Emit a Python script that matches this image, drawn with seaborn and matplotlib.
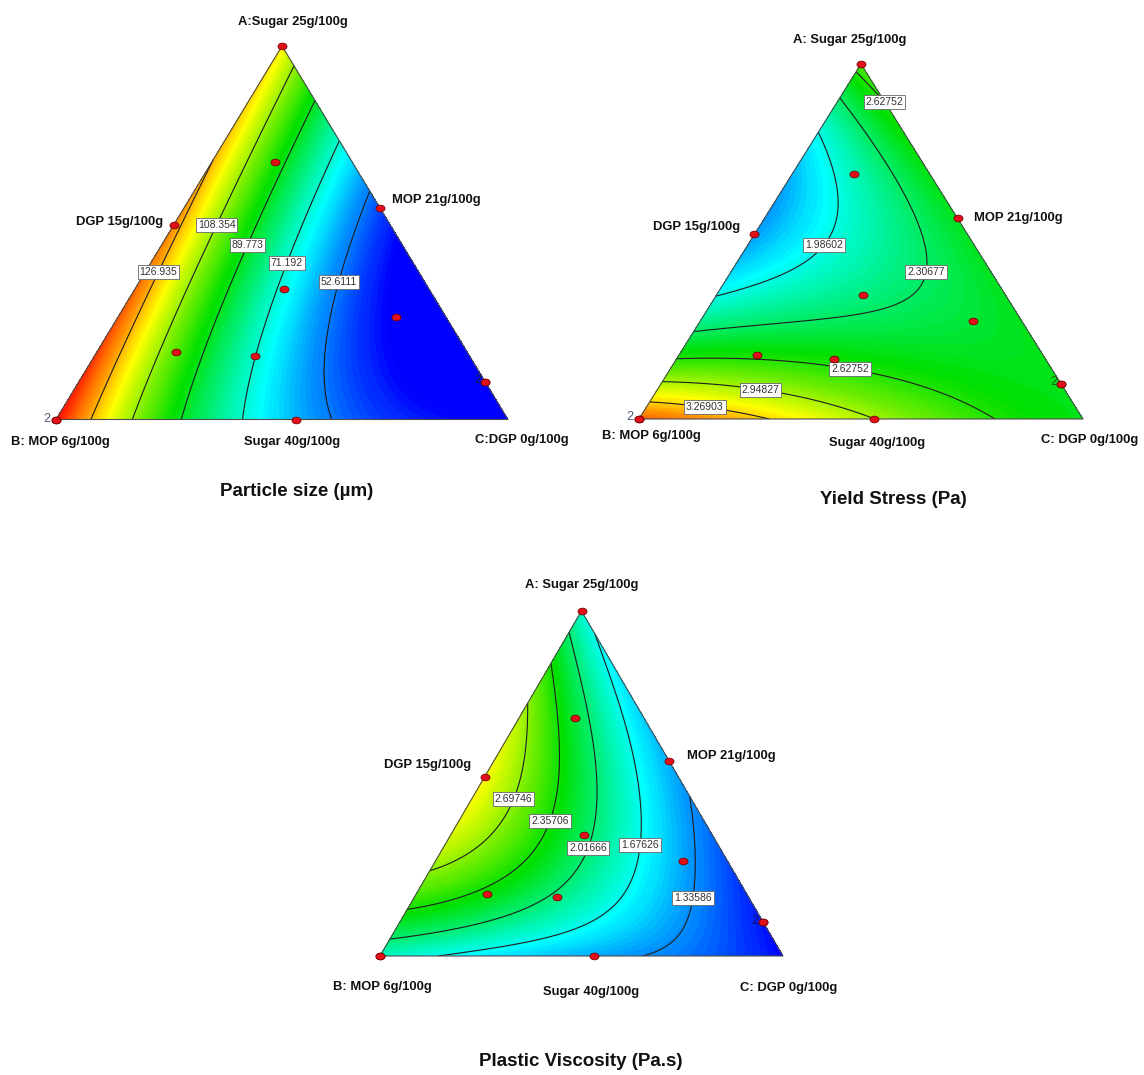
import numpy as np
import matplotlib
matplotlib.use("Agg")
import matplotlib.pyplot as plt
import matplotlib.tri as mtri
from matplotlib.path import Path
import seaborn as sns

# ── Data ──────────────────────────────────────────────────────────────────────
# Design runs, as A and C fractions of the simplex (B = 1 - A - C)
run_a = [1.0, 0.0, 0.0, 0.52, 0.565, 0.0, 0.10, 0.10, 0.69, 0.35, 0.18, 0.17, 0.275]
run_c = [0.0, 0.0, 0.0, 0.0, 0.435, 0.53, 0.90, 0.90, 0.14, 0.33, 0.175, 0.355, 0.615]

# Particle size (µm): readings (A, C, value)
ps_a = [1.0, 0.0, 0.0, 0.0, 0.0, 0.0, 0.0, 0.0, 0.93, 0.86, 0.75, 0.61, 0.722,
        0.396, 0.521, 0.469, 0.231, 0.42, 0.171, 0.369, 0.231]
ps_c = [0.0, 0.0, 1.0, 0.082, 0.17, 0.274, 0.407, 0.613, 0.07, 0.14, 0.25, 0.39, 0.0,
        0.028, 0.094, 0.187, 0.231, 0.297, 0.356, 0.439, 0.494]
ps_val = [118, 144, 40, 126.935, 108.354, 89.773, 71.192, 52.611, 108.354, 89.773, 71.192, 52.611,
          126.935, 126.935, 108.354, 89.773, 89.773, 71.192, 71.192, 52.611, 52.611]
ps_levels = [52.6111, 71.192, 89.773, 108.354, 126.935]
ps_labels = ["52.6111", "71.192", "89.773", "108.354", "126.935"]

# Yield stress (Pa)
ys_a = [1.0, 0.0, 0.0,
        0.049, 0.049, 0.0,
        0.11, 0.093, 0.0,
        0.171, 0.166, 0.15, 0.10, 0.0, 0.97, 0.88,
        0.246, 0.255, 0.279, 0.335, 0.42, 0.617, 0.786, 0.908,
        0.345, 0.373, 0.495, 0.617, 0.805,
        0.57, 0.5]
ys_c = [0.0, 0.0, 1.0,
        0.0, 0.125, 0.257,
        0.0, 0.229, 0.521,
        0.0, 0.174, 0.401, 0.62, 0.789, 0.0, 0.12,
        0.0, 0.212, 0.365, 0.436, 0.414, 0.287, 0.136, 0.0,
        0.0, 0.12, 0.165, 0.126, 0.0,
        0.02, 0.5]
ys_val = [2.70, 3.52, 2.50,
          3.26903, 3.26903, 3.26903,
          2.94827, 2.94827, 2.94827,
          2.62752, 2.62752, 2.62752, 2.62752, 2.62752, 2.62752, 2.62752,
          2.30677, 2.30677, 2.30677, 2.30677, 2.30677, 2.30677, 2.30677, 2.30677,
          1.98602, 1.98602, 1.98602, 1.98602, 1.98602,
          1.72, 2.45]
ys_levels = [1.98602, 2.30677, 2.62752, 2.94827, 3.26903]
ys_labels = ["1.98602", "2.30677", "2.62752", "2.94827", "3.26903"]

# Plastic viscosity (Pa.s)
pv_a = [1.0, 0.0, 0.0,
        0.742, 0.471, 0.458, 0.326, 0.24,
        0.853, 0.664, 0.397, 0.375, 0.22, 0.133,
        0.94, 0.664, 0.336, 0.319, 0.181, 0.095, 0.051,
        0.916, 0.858, 0.664, 0.375, 0.322, 0.133, 0.085, 0.027, 0.0,
        0.481, 0.278, 0.168, 0.133, 0.056, 0.0,
        0.80, 0.65, 0.30, 0.5]
pv_c = [0.0, 0.0, 1.0,
        0.0, 0.1375, 0.097, 0.16, 0.0,
        0.0, 0.108, 0.2115, 0.2265, 0.18, 0.0,
        0.0, 0.182, 0.325, 0.345, 0.2825, 0.16, 0.0,
        0.084, 0.11, 0.29, 0.4635, 0.491, 0.5305, 0.497, 0.36, 0.145,
        0.519, 0.657, 0.692, 0.7125, 0.685, 0.576,
        0.20, 0.35, 0.70, 0.0]
pv_val = [1.75, 1.80, 0.95,
          2.69746, 2.69746, 2.69746, 2.69746, 2.69746,
          2.35706, 2.35706, 2.35706, 2.35706, 2.35706, 2.35706,
          2.01666, 2.01666, 2.01666, 2.01666, 2.01666, 2.01666, 2.01666,
          1.67626, 1.67626, 1.67626, 1.67626, 1.67626, 1.67626, 1.67626, 1.67626, 1.67626,
          1.33586, 1.33586, 1.33586, 1.33586, 1.33586, 1.33586,
          1.60, 1.48, 1.15, 2.92]
pv_levels = [1.33586, 1.67626, 2.01666, 2.35706, 2.69746]
pv_labels = ["1.33586", "1.67626", "2.01666", "2.35706", "2.69746"]


# ── Helpers ───────────────────────────────────────────────────────────────────
def scheffe_terms(a, c, quartic=False):
    # full cubic (optionally quartic) Scheffe mixture model
    a = np.asarray(a, float)
    c = np.asarray(c, float)
    b = 1 - a - c
    cols = [a, b, c, a*b, a*c, b*c, a*b*c,
            a*b*(a-b), a*c*(a-c), b*c*(b-c)]
    if quartic:
        cols += [a*a*b*c, a*b*b*c, a*b*c*c,
                 a*b*(a-b)**2, a*c*(a-c)**2, b*c*(b-c)**2]
    return np.column_stack(cols)

def tern_xy(a, c):
    a = np.asarray(a, float)
    c = np.asarray(c, float)
    return c + a / 2, a

# triangular lattice covering the simplex
n = 120
ga, gc = [], []
for i in range(n + 1):
    for j in range(n + 1 - i):
        ga.append(i / n)
        gc.append(j / n)
ga, gc = np.array(ga), np.array(gc)
gx, gy = tern_xy(ga, gc)
tri = mtri.Triangulation(gx, gy)

cmap = sns.blend_palette(["#0000ff", "#00ffff", "#00e000", "#ffff00", "#ff0000"], as_cmap=True)

ell = Path.unit_circle()
ell = Path(ell.vertices * [1.35, 1.0], ell.codes)

sns.set_theme(style="white")
plt.rcParams["font.family"] = ["Liberation Sans", "DejaVu Sans"]

W, H = 1144, 1075
fig = plt.figure(figsize=(W / 100, H / 100), dpi=100)
fig.patch.set_facecolor("white")

def ftext(px, py, s, **kw):
    kw.setdefault("fontsize", 9.4)
    kw.setdefault("fontweight", "bold")
    kw.setdefault("va", "center")
    fig.text(px / W, 1 - py / H, s, color="#111111", **kw)

def draw_panel(box, pa, pc, pv, levels, labels, lab_pos, lims, quartic=False):
    bx, cx, ay, by = box
    ax = fig.add_axes([bx / W, 1 - by / H, (cx - bx) / W, (by - ay) / H])
    ax.set_xlim(0, 1)
    ax.set_ylim(0, 1)
    ax.axis("off")
    coef, *_ = np.linalg.lstsq(scheffe_terms(pa, pc, quartic), np.asarray(pv, float), rcond=None)
    z = scheffe_terms(ga, gc, quartic) @ coef
    ax.tricontourf(tri, z, levels=np.linspace(lims[0], lims[1], 90), cmap=cmap, extend="both")
    cs = ax.tricontour(tri, z, levels=levels, colors="#1e1e1e", linewidths=0.8)
    lbls = ax.clabel(cs, levels, fmt=dict(zip(levels, labels)), manual=lab_pos,
                     inline=False, fontsize=7.5, colors="#333333")
    for t in lbls:
        t.set_bbox(dict(facecolor="white", edgecolor="#666666", linewidth=0.6, pad=1.4))
        t.set_rotation(0)
    ax.plot([0, 1, 0.5, 0], [0, 0, 1, 0], color="#4d4d4d", lw=0.8, clip_on=False)
    rx, ry = tern_xy(run_a, run_c)
    ax.scatter(rx, ry, marker=ell, s=42, color="#e3101a", edgecolor="#7a0000",
               linewidth=0.6, zorder=5, clip_on=False)
    return ax

# ── Plot 1: particle size ─────────────────────────────────────────────────────
draw_panel((56, 508, 46, 419.5), ps_a, ps_c, ps_val, ps_levels, ps_labels,
           [(0.226, 0.396), (0.354, 0.521), (0.421, 0.469), (0.507, 0.42), (0.623, 0.369)],
           (40, 146))
ftext(293, 22, "A:Sugar 25g/100g", ha="center")
ftext(163, 222, "DGP 15g/100g", ha="right")
ftext(392, 200, "MOP 21g/100g", ha="left")
ftext(11, 442, "B: MOP 6g/100g", ha="left")
ftext(292, 442, "Sugar 40g/100g", ha="center")
ftext(475, 440, "C:DGP 0g/100g", ha="left")
ftext(297, 492, "Particle size (µm)", ha="center", fontsize=13.5)
fig.text(47 / W, 1 - 419 / H, "2", fontsize=9, color="#4a5a78", ha="center", va="center")
fig.text(478 / W, 1 - 380 / H, "2", fontsize=9, color="#1a1a50", ha="center", va="center")

# ── Plot 2: yield stress ──────────────────────────────────────────────────────
draw_panel((639, 1083, 64, 419), ys_a, ys_c, ys_val, ys_levels, ys_labels,
           [(0.559, 0.893), (0.412, 0.495), (0.624, 0.42), (0.476, 0.15),
            (0.275, 0.093), (0.15, 0.049)],
           (1.3, 3.8))
ftext(850, 40, "A: Sugar 25g/100g", ha="center")
ftext(740, 227, "DGP 15g/100g", ha="right")
ftext(974, 218, "MOP 21g/100g", ha="left")
ftext(602, 436, "B: MOP 6g/100g", ha="left")
ftext(877, 443, "Sugar 40g/100g", ha="center")
ftext(1041, 440, "C: DGP 0g/100g", ha="left")
ftext(893, 500, "Yield Stress (Pa)", ha="center", fontsize=13.5)
fig.text(630 / W, 1 - 417 / H, "2", fontsize=9, color="#4a5a78", ha="center", va="center")
fig.text(1054 / W, 1 - 382 / H, "2", fontsize=9, color="#1f5a1f", ha="center", va="center")

# ── Plot 3: plastic viscosity ─────────────────────────────────────────────────
draw_panel((380, 783, 611, 956), pv_a, pv_c, pv_val, pv_levels, pv_labels,
           [(0.326, 0.458), (0.41, 0.397), (0.505, 0.319), (0.652, 0.322), (0.776, 0.168)],
           (0.95, 3.7), quartic=True)
ftext(582, 585, "A: Sugar 25g/100g", ha="center")
ftext(471, 765, "DGP 15g/100g", ha="right")
ftext(687, 756, "MOP 21g/100g", ha="left")
ftext(333, 987, "B: MOP 6g/100g", ha="left")
ftext(591, 992, "Sugar 40g/100g", ha="center")
ftext(740, 988, "C: DGP 0g/100g", ha="left")
ftext(581, 1062, "Plastic Viscosity (Pa.s)", ha="center", fontsize=13.5)
fig.text(755 / W, 1 - 921 / H, "2", fontsize=9, color="#10106a", ha="center", va="center")

plt.savefig("out.png", dpi=100)
